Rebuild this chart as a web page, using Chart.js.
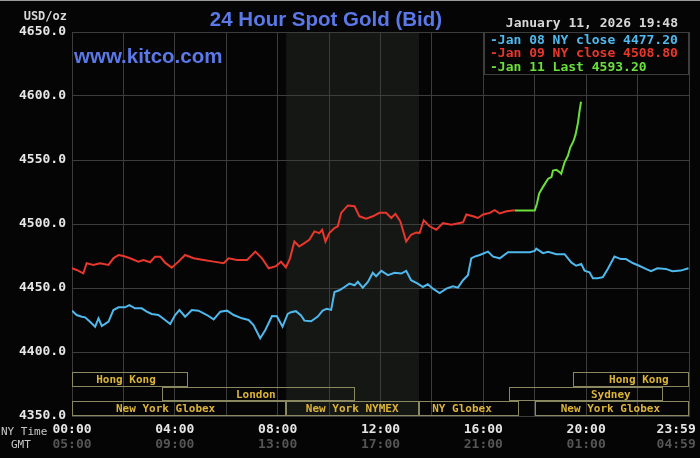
<!DOCTYPE html>
<html>
<head>
<meta charset="utf-8">
<script src="https://cdn.jsdelivr.net/npm/chart.js@4.4.1/dist/chart.umd.min.js"></script>
<style>
  html, body { margin: 0; padding: 0; background: #050505; }
  canvas { display: block; }
</style>
</head>
<body>
<canvas id="goldChart" width="700" height="458"></canvas>
<script>
// data (hours are NY time)
const jan08Hours = [0, 0.18, 0.38, 0.51, 0.70, 0.90, 1.03, 1.16, 1.42, 1.61, 1.81, 2.06, 2.23, 2.45, 2.71, 2.91,
    3.10, 3.36, 3.62, 3.82, 4.01, 4.18, 4.40, 4.66, 4.92, 5.25, 5.51, 5.77, 6.03, 6.29, 6.61, 6.87,
    7.06, 7.32, 7.52, 7.78, 7.97, 8.19, 8.39, 8.52, 8.71, 8.91, 9.04, 9.30, 9.56, 9.75, 9.91, 10.08,
    10.21, 10.40, 10.60, 10.79, 10.99, 11.12, 11.31, 11.51, 11.70, 11.83, 12.03, 12.29, 12.55, 12.81,
    13.0, 13.19, 13.45, 13.65, 13.84, 14.04, 14.30, 14.56, 14.82, 15.01, 15.21, 15.40, 15.53, 15.66,
    15.86, 16.18, 16.38, 16.64, 16.96, 17.81, 18.0, 18.06, 18.32, 18.52, 18.84, 19.16, 19.42, 19.61,
    19.81, 19.94, 20.13, 20.26, 20.45, 20.65, 20.84, 21.10, 21.35, 21.55, 21.81, 22.06, 22.32, 22.52,
    22.77, 23.10, 23.35, 23.68, 23.98]
const jan08Prices = [4432.3, 4428.9, 4427.6, 4427.1, 4423.7, 4419.8, 4426.3, 4420.3, 4423.7, 4432.8, 4434.9, 4434.9, 4436.7, 4434.1, 4434.1, 4431.5,
    4429.7, 4428.9, 4425.0, 4421.9, 4428.9, 4432.8, 4427.6, 4432.8, 4432.3, 4428.9, 4425.5, 4431.5, 4432.3, 4428.9, 4426.3, 4425.0,
    4421.1, 4410.7, 4417.2, 4428.1, 4428.0, 4419.8, 4429.8, 4431.1, 4431.9, 4428.5, 4424.5, 4424.0, 4427.7, 4432.4, 4433.7, 4432.9,
    4446.9, 4448.2, 4450.8, 4453.4, 4452.1, 4454.8, 4450.3, 4454.8, 4461.9, 4459.2, 4463.4, 4460.0, 4461.9, 4461.3,
    4463.4, 4456.1, 4453.4, 4450.8, 4452.9, 4449.5, 4446.1, 4449.5, 4451.3, 4450.3, 4456.1, 4460.0, 4473.2, 4474.5,
    4475.8, 4478.4, 4474.5, 4473.2, 4477.9, 4477.9, 4479.0, 4480.8, 4477.2, 4478.2, 4476.4, 4476.4, 4470.0, 4467.4,
    4468.7, 4463.6, 4462.3, 4457.7, 4457.7, 4458.5, 4464.9, 4474.6, 4472.6, 4472.6, 4469.5, 4467.4, 4464.9, 4463.1,
    4465.4, 4464.9, 4463.1, 4463.6, 4465.4]

const jan09Hours = [0, 0.18, 0.44, 0.57, 0.83, 1.09, 1.42, 1.61, 1.81, 2.0, 2.26, 2.58, 2.78, 3.04, 3.23, 3.43,
    3.62, 3.88, 4.14, 4.40, 4.73, 5.12, 5.51, 5.90, 6.09, 6.42, 6.81, 7.13, 7.39, 7.65, 7.94, 8.13,
    8.32, 8.48, 8.65, 8.84, 9.04, 9.23, 9.43, 9.62, 9.73, 9.86, 10.01, 10.21, 10.34, 10.47, 10.73, 10.99,
    11.18, 11.44, 11.70, 11.96, 12.22, 12.42, 12.58, 12.77, 13.0, 13.19, 13.39, 13.52, 13.68, 13.91,
    14.17, 14.43, 14.75, 15.08, 15.21, 15.34, 15.60, 15.79, 15.99, 16.25, 16.44, 16.64, 16.90, 17.22]
const jan09Prices = [4465.4, 4464.1, 4461.5, 4469.3, 4468.0, 4469.3, 4468.0, 4473.2, 4475.8, 4475.0, 4473.2, 4470.6, 4471.9, 4470.1, 4474.5, 4474.5,
    4469.8, 4465.9, 4470.6, 4475.8, 4473.2, 4471.9, 4470.6, 4469.3, 4473.2, 4471.9, 4471.9, 4478.4, 4473.2, 4465.4, 4467.1, 4470.5,
    4466.1, 4473.2, 4486.3, 4482.4, 4485.0, 4487.6, 4494.2, 4492.9, 4495.5, 4486.3, 4492.9, 4496.8, 4498.2, 4508.7, 4514.5, 4513.9,
    4506.0, 4504.2, 4506.0, 4508.7, 4508.7, 4504.7, 4507.9, 4502.1, 4486.3, 4491.6, 4493.4, 4492.9, 4502.9, 4498.2,
    4495.5, 4500.8, 4499.5, 4500.8, 4501.3, 4507.4, 4506.0, 4504.7, 4507.4, 4508.7, 4510.8, 4508.2, 4510.0, 4510.8]

const jan11Hours = [17.22, 18.0, 18.09, 18.17, 18.32, 18.52, 18.65, 18.71, 18.84, 18.97, 19.03, 19.16, 19.29,
    19.38, 19.51, 19.59, 19.68, 19.74, 19.80]
const jan11Prices = [4510.5, 4510.5, 4516.2, 4523.8, 4529.0, 4535.4, 4536.7, 4541.8, 4542.3, 4540.5, 4539.2, 4548.2, 4553.3,
    4559.7, 4564.9, 4570.0, 4579.0, 4588.0, 4595.5]

const legendLabels = ['Jan 08 NY close 4477.20', 'Jan 09 NY close 4508.80', 'Jan 11 Last 4593.20']

// x axis ticks
const gridHours = [0, 2, 4, 6, 8, 10, 12, 14, 16, 18, 20, 22, 24]
const tickHours = [0, 4, 8, 12, 16, 20, 23.5]
const nyTimeLabels = ['00:00', '04:00', '08:00', '12:00', '16:00', '20:00', '23:59']
const gmtLabels = ['05:00', '09:00', '13:00', '17:00', '21:00', '01:00', '04:59']

// trading sessions, row 0 is the top row
const sessionNames = ['Hong Kong', 'Hong Kong', 'London', 'Sydney', 'New York Globex', 'New York NYMEX', 'NY Globex', 'New York Globex']
const sessionRows = [0, 0, 1, 1, 2, 2, 2, 2]
const sessionStarts = [0, 19.5, 3.5, 17.0, 0, 8.33, 13.5, 18.0]
const sessionEnds = [4.5, 24, 11.0, 23.0, 8.33, 13.5, 17.4, 24]
const sessionLabelAt = [2.1, 22.05, 7.15, 20.96, 3.64, 10.9, 15.17, 20.94]
const pitStart = 8.33
const pitEnd = 13.5

const GRID = '#3d3d3d'
const MONO = '"DejaVu Sans Mono", monospace'

function toPoints(hours, prices) {
    return hours.map((h, i) => ({ x: h, y: prices[i] }))
}

function xTicks(scale) {
    const vals = [...new Set(gridHours.concat(tickHours))].sort((a, b) => a - b)
    scale.ticks = vals.map(v => ({ value: v }))
}

const decor = {
    id: 'decor',
    beforeDraw(chart) {
        const { ctx, chartArea: a, scales: { x } } = chart
        ctx.save()
        ctx.fillStyle = '#050505'
        ctx.fillRect(0, 0, chart.width, chart.height)
        ctx.fillStyle = '#9a9a9a'
        ctx.fillRect(0, 0, chart.width, 1)
        // NYMEX pit hours
        const x1 = x.getPixelForValue(pitStart)
        const x2 = x.getPixelForValue(pitEnd)
        ctx.fillStyle = '#151715'
        ctx.fillRect(x1, a.top, x2 - x1, a.bottom - a.top)
        ctx.restore()
    },
    afterDraw(chart) {
        const { ctx, chartArea: a, scales: { x, y } } = chart
        ctx.save()

        // session boxes
        const rowUnits = 11.45
        ctx.lineWidth = 1
        ctx.font = 'bold 11px ' + MONO
        ctx.textAlign = 'center'
        ctx.textBaseline = 'middle'
        sessionNames.forEach((name, i) => {
            const bottom = 4350 + (2 - sessionRows[i]) * rowUnits
            const yb = Math.round(y.getPixelForValue(bottom)) - 0.5
            const yt = Math.round(y.getPixelForValue(bottom + rowUnits)) + 0.5
            const xl = Math.round(x.getPixelForValue(sessionStarts[i])) + 0.5
            const xr = Math.round(x.getPixelForValue(sessionEnds[i])) - 0.5
            ctx.strokeStyle = '#8a8860'
            ctx.strokeRect(xl, yt, xr - xl, yb - yt)
            ctx.fillStyle = '#dcb43a'
            ctx.fillText(name, x.getPixelForValue(sessionLabelAt[i]), (yt + yb) / 2 + 1)
        })

        // legend box
        const lx = 484, ly = a.top, lw = a.right - 484, lh = 42
        ctx.fillStyle = '#050505'
        ctx.fillRect(lx, ly, lw, lh)
        ctx.strokeStyle = GRID
        ctx.strokeRect(lx + 0.5, ly + 0.5, lw - 1, lh)
        ctx.font = 'bold 13px ' + MONO
        ctx.textAlign = 'left'
        ctx.textBaseline = 'alphabetic'
        chart.data.datasets.forEach((ds, i) => {
            ctx.fillStyle = ds.borderColor
            ctx.fillText('-' + legendLabels[i], 490, 43.5 + i * 13.8)
        })

        // headings
        ctx.fillStyle = '#d8d8d8'
        ctx.textAlign = 'right'
        ctx.fillText('January 11, 2026 19:48', 678, 27)
        ctx.font = 'bold 12px ' + MONO
        ctx.fillText('USD/oz', 67, 20)

        ctx.fillStyle = '#5a78e8'
        ctx.textAlign = 'center'
        ctx.font = 'bold 20.5px "Liberation Sans", Arial, sans-serif'
        ctx.fillText('24 Hour Spot Gold (Bid)', 326, 25.5)
        ctx.textAlign = 'left'
        ctx.font = 'bold 20.5px "Liberation Sans", Arial, sans-serif'
        ctx.fillText('www.kitco.com', 74, 62.5)

        ctx.fillStyle = '#c8c8c8'
        ctx.font = '11px ' + MONO
        ctx.fillText('NY Time', 1, 435)
        ctx.fillText('GMT', 11, 448)
        ctx.restore()
    }
}

const config = {
    type: 'line',
    data: {
        datasets: [{
            label: 'Jan 08',
            data: toPoints(jan08Hours, jan08Prices),
            borderColor: '#4fb8ec',
            borderWidth: 2
        }, {
            label: 'Jan 09',
            data: toPoints(jan09Hours, jan09Prices),
            borderColor: '#e8372b',
            borderWidth: 2
        }, {
            label: 'Jan 11',
            data: toPoints(jan11Hours, jan11Prices),
            borderColor: '#6be03c',
            borderWidth: 2
        }]
    },
    options: {
        responsive: false,
        animation: false,
        layout: { padding: { top: 32, right: 11, left: 0, bottom: 0 } },
        elements: { point: { radius: 0 }, line: { tension: 0 } },
        plugins: { legend: { display: false }, tooltip: { enabled: false } },
        scales: {
            x: {
                type: 'linear',
                min: 0,
                max: 24,
                weight: 0,
                afterBuildTicks: xTicks,
                afterFit: s => { s.height = 20 },
                grid: {
                    color: c => gridHours.includes(c.tick.value) ? GRID : 'rgba(0,0,0,0)',
                    drawTicks: false
                },
                border: { color: GRID },
                ticks: {
                    autoSkip: false,
                    maxRotation: 0,
                    minRotation: 0,
                    padding: 6,
                    color: '#e6e6e6',
                    font: { family: MONO, size: 13, weight: 'bold' },
                    callback: v => { const i = tickHours.indexOf(v); return i >= 0 ? nyTimeLabels[i] : '' }
                }
            },
            x2: {
                type: 'linear',
                position: 'bottom',
                min: 0,
                max: 24,
                weight: 1,
                afterBuildTicks: xTicks,
                afterFit: s => { s.height = 22 },
                grid: { display: false },
                border: { display: false },
                ticks: {
                    autoSkip: false,
                    maxRotation: 0,
                    minRotation: 0,
                    padding: -7,
                    color: '#555555',
                    font: { family: MONO, size: 13, weight: 'bold' },
                    callback: v => { const i = tickHours.indexOf(v); return i >= 0 ? gmtLabels[i] : '' }
                }
            },
            y: {
                min: 4350,
                max: 4650,
                afterFit: s => { s.width = 72 },
                grid: { color: GRID, drawTicks: false },
                border: { color: GRID },
                ticks: {
                    stepSize: 50,
                    padding: 6,
                    color: '#e6e6e6',
                    font: { family: MONO, size: 13, weight: 'bold' },
                    callback: v => v.toFixed(1)
                }
            }
        }
    },
    plugins: [decor]
}

const goldChart = new Chart(document.getElementById('goldChart'), config)
</script>
</body>
</html>
